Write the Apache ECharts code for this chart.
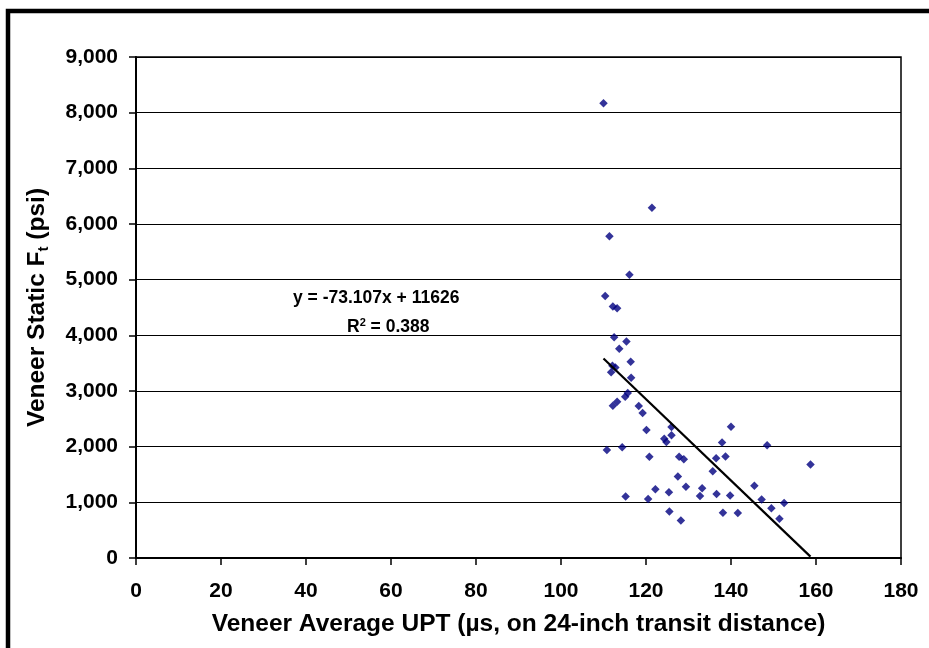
<!DOCTYPE html>
<html>
<head>
<meta charset="utf-8">
<script src="https://cdn.jsdelivr.net/npm/echarts@6/dist/echarts.min.js"></script>
<style>
html,body{margin:0;padding:0;background:#fff;}
#chart{width:929px;height:648px;}
</style>
</head>
<body>
<div id="chart"></div>
<script>
// UPT (µs) values
var uptValues = [110.0,121.4,111.4,116.1,110.4,112.2,113.2,112.5,115.4,113.7,116.4,112.1,112.8,111.8,116.5,115.7,115.1,113.2,112.2,118.3,119.2,126.0,120.1,126.0,124.3,124.8,137.9,140.0,110.8,114.4,120.8,127.8,128.9,136.5,138.7,135.7,127.5,122.2,129.4,133.2,115.2,120.5,125.4,132.7,136.6,139.8,125.5,128.2,138.1,148.5,158.7,145.5,147.2,152.5,149.5,151.4,141.6];
// Static Ft (psi) values
var ftValues = [8170,6290,5780,5090,4705,4520,4485,3965,3890,3760,3525,3455,3420,3335,3240,2965,2895,2805,2735,2730,2605,2355,2300,2205,2140,2085,2075,2360,1940,1990,1820,1820,1775,1790,1825,1560,1465,1235,1280,1255,1105,1060,1180,1115,1150,1125,835,675,815,2025,1680,1300,1050,990,895,705,810];
var trendSlope = -73.107;
var trendIntercept = 11626;
var equationText = 'y = -73.107x + 11626';
var r2Text = '0.388';
var xTitle = 'Veneer Average UPT (µs, on 24-inch transit distance)';

var scatterData = uptValues.map(function(x,i){return [x, ftValues[i]];});
var xMin = Math.min.apply(null, uptValues), xMax = Math.max.apply(null, uptValues);
var trendData = [[xMin, trendSlope*xMin+trendIntercept],[xMax, trendSlope*xMax+trendIntercept]];

var FONT = '"Liberation Sans", Arial, sans-serif';
var chart = echarts.init(document.getElementById('chart'));
chart.setOption({
  animation:false,
  backgroundColor:'#fff',
  textStyle:{fontFamily:FONT},
  grid:{left:136, right:28, top:57, bottom:90, show:true, borderColor:'#000', borderWidth:1.5},
  xAxis:{
    type:'value', min:0, max:180, interval:20,
    name: xTitle, nameLocation:'middle', nameGap:54,
    nameTextStyle:{fontFamily:FONT, fontWeight:'bold', fontSize:24.5, color:'#000'},
    axisLine:{onZero:false, lineStyle:{color:'#000', width:2}},
    axisTick:{show:true, inside:false, length:7, lineStyle:{color:'#000', width:1.5}},
    axisLabel:{margin:23, fontFamily:FONT, fontWeight:'bold', fontSize:21, color:'#000'},
    splitLine:{show:false}
  },
  yAxis:{
    type:'value', min:0, max:9000, interval:1000,
    name:'{a|Veneer Static F}{b|t}{a| (psi)}', nameLocation:'middle', nameGap:85, nameRotate:90,
    nameTextStyle:{
      rich:{
        a:{fontFamily:FONT, fontWeight:'bold', fontSize:24.5, color:'#000'},
        b:{fontFamily:FONT, fontWeight:'bold', fontSize:15, color:'#000', padding:[12,0,0,0]}
      }
    },
    axisLine:{show:true, lineStyle:{color:'#000', width:2}},
    axisTick:{show:true, inside:false, length:7, lineStyle:{color:'#000', width:1.5}},
    axisLabel:{margin:18, fontFamily:FONT, fontWeight:'bold', fontSize:21, color:'#000',
      formatter:function(v){return v.toLocaleString('en-US');}},
    splitLine:{show:true, lineStyle:{color:'#000', width:1.2}}
  },
  series:[
    {type:'scatter', data:scatterData, symbol:'diamond', symbolSize:8.5,
     itemStyle:{color:'#000080'}, z:3},
    {type:'line', data:trendData, symbol:'none', lineStyle:{color:'#000', width:2.2}, z:4}
  ],
  graphic:[
    {type:'rect', shape:{x:8, y:11, width:1200, height:1200}, style:{fill:'none', stroke:'#000', lineWidth:4.5}, silent:true},
    {type:'text', left:293, top:289, style:{text:equationText, font:'bold 17.5px '+FONT, fill:'#000'}},
    {type:'text', left:347, top:317, style:{
      text:'{a|R}{s|2}{a| = '+r2Text+'}',
      rich:{a:{font:'bold 17.5px '+FONT, fill:'#000'}, s:{font:'bold 11px '+FONT, fill:'#000', padding:[0,0,10,0]}}
    }}
  ]
});
</script>
</body>
</html>
